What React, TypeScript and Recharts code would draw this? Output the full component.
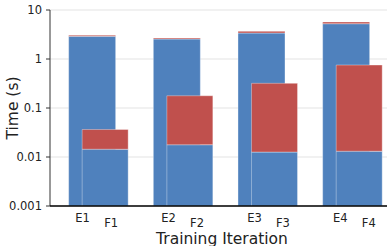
import React from 'react';
import { BarChart, Bar, XAxis, YAxis, CartesianGrid } from 'recharts';

const eLabels = ['E1', 'E2', 'E3', 'E4'];
const fLabels = ['F1', 'F2', 'F3', 'F4'];
const eBase = [2.9, 2.56, 3.39, 5.25];
const eExtra = [0.17, 0.12, 0.28, 0.44];
const fBase = [0.0144, 0.0178, 0.0126, 0.0131];
const fExtra = [0.022, 0.16, 0.306, 0.74];
const yTicks = [0.001, 0.01, 0.1, 1, 10];
const positions = [1, 2, 3, 4];

const data = positions.map((p, i) => ({
  idx: p,
  e: eLabels[i],
  f: fLabels[i],
  eBase: eBase[i],
  eExtra: eExtra[i],
  fBase: fBase[i],
  fExtra: fExtra[i],
}));

const FONT = '"DejaVu Sans", sans-serif';
const BLUE = '#4f81bd';
const RED = '#c0504d';
const EDGE = 'rgba(255,255,255,0.35)';

const PairTick = (props: any) => {
  const { x, y, index } = props;
  return (
    <g>
      <text x={x} y={y + 15.7} textAnchor="middle" fontSize={11.5} fill="#222" fontFamily={FONT}>
        {eLabels[index]}
      </text>
      <text x={x + 28.5} y={y + 20.7} textAnchor="middle" fontSize={11.5} fill="#222" fontFamily={FONT}>
        {fLabels[index]}
      </text>
    </g>
  );
};

export default function App() {
  return (
    <div style={{ position: 'absolute', left: 0, top: 0, width: 387, height: 246, overflow: 'hidden' }}>
      <BarChart
        width={394}
        height={246}
        data={data}
        margin={{ top: 10, right: 0, bottom: 0, left: 0 }}
      >
        <CartesianGrid horizontal vertical={false} stroke="#e3e3e3" xAxisId="lbl" />
        <XAxis
          xAxisId="e"
          dataKey="idx"
          type="number"
          domain={[0.504, 4.567]}
          allowDataOverflow
          ticks={positions}
          orientation="top"
          height={0}
          tick={false}
          tickLine={false}
          axisLine={{ stroke: '#555', strokeWidth: 1.5 }}
        />
        <XAxis
          xAxisId="f"
          dataKey="idx"
          type="number"
          domain={[0.3445, 4.407]}
          allowDataOverflow
          ticks={positions}
          orientation="top"
          height={0}
          hide
        />
        <YAxis
          scale="log"
          domain={[0.001, 10]}
          allowDataOverflow
          ticks={yTicks}
          tickFormatter={(v: number) => String(v)}
          width={50}
          tickSize={4}
          tickMargin={4}
          tick={{ fontSize: 11.5, fill: '#222', fontFamily: FONT }}
          tickLine={{ stroke: '#333' }}
          axisLine={{ stroke: '#333' }}
          label={{
            content: (p: any) => {
              const vb = p.viewBox || { x: 0, y: 10, width: 50, height: 196 };
              const cx = vb.x + 18;
              const cy = vb.y + vb.height / 2;
              return (
                <text
                  x={cx}
                  y={cy}
                  transform={`rotate(-90, ${cx}, ${cy})`}
                  textAnchor="middle"
                  fontSize={15.5}
                  fill="#222"
                  fontFamily={FONT}
                >
                  Time (s)
                </text>
              );
            },
          }}
        />
        <Bar xAxisId="e" dataKey="eBase" stackId="e" fill={BLUE} stroke={EDGE} barSize={47} isAnimationActive={false} />
        <Bar xAxisId="e" dataKey="eExtra" stackId="e" fill={RED} stroke={EDGE} barSize={47} isAnimationActive={false} />
        <Bar xAxisId="f" dataKey="fBase" stackId="f" fill={BLUE} stroke={EDGE} barSize={46} isAnimationActive={false} />
        <Bar xAxisId="f" dataKey="fExtra" stackId="f" fill={RED} stroke={EDGE} barSize={46} isAnimationActive={false} />
        <XAxis
          xAxisId="lbl"
          dataKey="idx"
          type="number"
          domain={[0.62, 4.625]}
          allowDataOverflow
          ticks={positions}
          height={40}
          tickSize={0}
          tickMargin={0}
          tickLine={false}
          tick={<PairTick />}
          axisLine={{ stroke: '#000', strokeWidth: 1.6 }}
          label={{
            content: (p: any) => {
              const vb = p.viewBox || { x: 50, y: 206, width: 344, height: 40 };
              return (
                <text
                  x={vb.x + vb.width / 2}
                  y={vb.y + 38}
                  textAnchor="middle"
                  fontSize={15.5}
                  fill="#222"
                  fontFamily={FONT}
                >
                  Training Iteration
                </text>
              );
            },
          }}
        />
      </BarChart>
    </div>
  );
}
